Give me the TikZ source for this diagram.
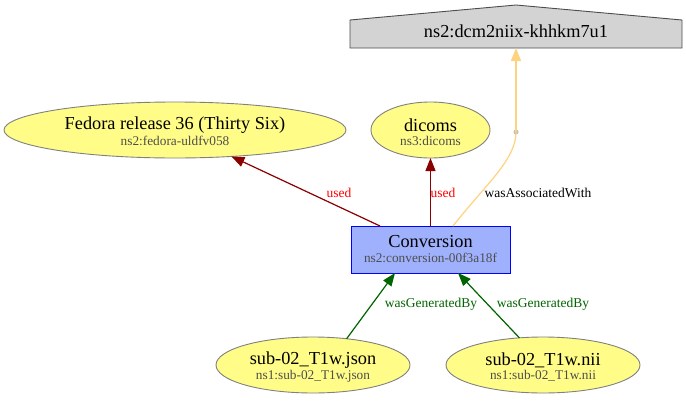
\documentclass[tikz,border=0pt]{standalone}
\usepackage{fontspec}
\setmainfont{Liberation Serif}
\usetikzlibrary{arrows.meta,shapes.geometric}
\definecolor{entfill}{HTML}{FFFC87}
\definecolor{entdraw}{HTML}{808080}
\definecolor{actfill}{HTML}{9FB1FC}
\definecolor{actdraw}{HTML}{0000FF}
\definecolor{agfill}{HTML}{D3D3D3}
\definecolor{subgray}{HTML}{4D4D4D}
\definecolor{usedc}{HTML}{8B0000}
\definecolor{genc}{HTML}{006400}
\definecolor{assocc}{HTML}{FED37F}
\definecolor{dotc}{HTML}{BEBEBE}
\tikzset{
  ent/.style={ellipse,draw=entdraw,fill=entfill,inner sep=0pt,outer sep=0pt,line width=0.9pt},
  act/.style={rectangle,draw=actdraw,fill=actfill,inner sep=0pt,outer sep=0pt,line width=0.9pt},
  maintxt/.style={font=\fontsize{18.3}{20}\selectfont,inner sep=0pt},
  subtxt/.style={font=\fontsize{13.3}{15}\selectfont,text=subgray,inner sep=0pt},
  elab/.style={font=\fontsize{13.5}{15}\selectfont,inner sep=0pt},
  tip/.style={-{Triangle[length=13pt,width=10pt]}},
  usededge/.style={tip,draw=usedc,fill=usedc,line width=1.2pt},
  genedge/.style={tip,draw=genc,fill=genc,line width=1.2pt},
}
\begin{document}
\begin{tikzpicture}[x=1pt,y=-1pt]
\useasboundingbox (0,0) rectangle (686,402);
% agent
\filldraw[fill=agfill,draw=black!70,line width=0.9pt] (350,48) -- (350,20) -- (516,5) -- (682,20) -- (682,48) -- cycle;
\node[rectangle,minimum width=332pt,minimum height=28pt,inner sep=0pt,outer sep=0pt] (agent) at (516,34) {};
\node[maintxt] (agenttxt) at (516,31) {ns2:dcm2niix-khhkm7u1};
% entities
\node[ent,minimum width=342pt,minimum height=56pt] (fedora) at (175,130) {};
\node[maintxt] (fedoratxt) at ([yshift=5pt]fedora.center) {Fedora release 36 (Thirty Six)};
\node[subtxt] (fedorasub) at ([yshift=-11pt]fedora.center) {ns2:fedora-uldfv058};
\node[ent,minimum width=119pt,minimum height=56pt] (dicoms) at (430.5,130) {};
\node[maintxt] (dicomstxt) at ([yshift=5pt]dicoms.center) {dicoms};
\node[subtxt] (dicomssub) at ([yshift=-11pt]dicoms.center) {ns3:dicoms};
\node[ent,minimum width=194pt,minimum height=56pt] (json) at (313,365) {};
\node[maintxt] (jsontxt) at ([yshift=5pt]json.center) {sub-02\_T1w.json};
\node[subtxt] (jsonsub) at ([yshift=-11pt]json.center) {ns1:sub-02\_T1w.json};
\node[ent,minimum width=194pt,minimum height=56pt] (nii) at (543,365) {};
\node[maintxt] (niitxt) at ([yshift=5pt]nii.center) {sub-02\_T1w.nii};
\node[subtxt] (niisub) at ([yshift=-11pt]nii.center) {ns1:sub-02\_T1w.nii};
% activity
\node[act,minimum width=159pt,minimum height=47pt] (conv) at (430.5,249.5) {};
\node[maintxt] (convtxt) at ([yshift=8pt]conv.center) {Conversion};
\node[subtxt] (convsub) at ([yshift=-8pt]conv.center) {ns2:conversion-00f3a18f};
% dot
\node[circle,fill=dotc,inner sep=0pt,minimum size=5pt] (dot) at (516,132) {};
% edges
\draw[usededge] ([xshift=-50.5pt]conv.north) -- (fedora);
\draw[usededge] (conv.north) -- (dicoms.south);
\draw[assocc,line width=1.2pt] ([xshift=22.5pt]conv.north) .. controls (485,185) and (516,160) .. (dot.center);
\draw[tip,draw=assocc,fill=assocc,line width=1.2pt] (dot.center) -- (agent.south);
\draw[genedge] (json.38) -- ([xshift=-35.5pt]conv.south);
\draw[genedge] (nii.131) -- ([xshift=27.5pt]conv.south);
% labels
\node[elab,text=red] (l1) at (339,193) {used};
\node[elab,text=red] (l2) at (443,193) {used};
\node[elab,text=black] (l3) at (538,193) {wasAssociatedWith};
\node[elab,text=genc] (l4) at (431,304) {wasGeneratedBy};
\node[elab,text=genc] (l5) at (543,304) {wasGeneratedBy};
\end{tikzpicture}
\end{document}
